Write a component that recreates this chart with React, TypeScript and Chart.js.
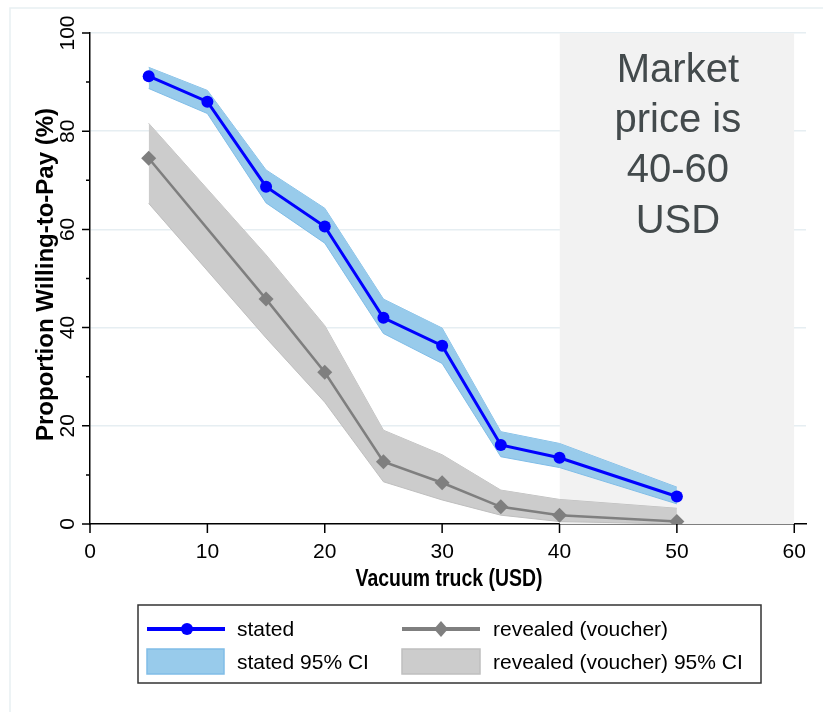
import React, { useEffect, useRef } from 'react';
import { Chart, registerables } from 'chart.js';
Chart.register(...registerables);

// ---- Data ----
const statedPrices = [5, 10, 15, 20, 25, 30, 35, 40, 50];
const statedValues = [91.2, 86.0, 68.7, 60.6, 42.0, 36.3, 16.1, 13.5, 5.6];
const statedUpper = [93.0, 88.3, 72.1, 64.3, 45.8, 39.9, 18.8, 16.4, 7.5];
const statedLower = [88.7, 83.6, 65.4, 57.2, 38.8, 32.7, 13.7, 11.5, 4.1];

const revealedPrices = [5, 15, 20, 25, 30, 35, 40, 50];
const revealedValues = [74.5, 45.8, 30.9, 12.7, 8.4, 3.5, 1.8, 0.5];
const revealedUpper = [81.6, 54.8, 40.4, 19.1, 14.1, 6.9, 5.0, 3.2];
const revealedLower = [65.3, 37.9, 24.8, 8.6, 4.9, 1.8, 0.5, 0.0];

const xTicks = [0, 10, 20, 30, 40, 50, 60];
const yTicks = [0, 20, 40, 60, 80, 100];
const yMinorTicks = [10, 30, 50, 70, 90];
const marketRange = [40, 60];
const marketTop = 100;
const marketLabel = ['Market', 'price is', '40-60', 'USD'];

const xTitle = 'Vacuum truck (USD)';
const yTitle = 'Proportion Willing-to-Pay (%)';
const legendLabels = ['stated', 'revealed (voucher)', 'stated 95% CI', 'revealed (voucher) 95% CI'];

const FONT = '"Liberation Sans", Arial, Helvetica, sans-serif';
const BLUE = '#0000ff';
const GRAY = '#7f7f7f';
const BLUE_CI = '#98cbeb';
const BLUE_CI_EDGE = '#80bde7';
const GRAY_CI = '#cccccc';
const GRAY_CI_EDGE = '#bfbfbf';

const pts = (xs: number[], ys: number[]) => xs.map((x, i) => ({ x, y: ys[i] }));

const drawPlugin = {
  id: 'stataDecor',
  beforeDraw(chart: any) {
    const ctx = chart.ctx;
    ctx.save();
    ctx.fillStyle = '#ffffff';
    ctx.fillRect(0, 0, chart.width, chart.height);
    ctx.strokeStyle = '#e8f0f2';
    ctx.lineWidth = 1.5;
    ctx.beginPath();
    ctx.moveTo(10, chart.height);
    ctx.lineTo(10, 8);
    ctx.lineTo(chart.width, 8);
    ctx.stroke();
    ctx.restore();
  },
  afterDatasetsDraw(chart: any) {
    const ctx = chart.ctx;
    const xs = chart.scales.x;
    const cx = (xs.getPixelForValue(marketRange[0]) + xs.getPixelForValue(marketRange[1])) / 2;
    ctx.save();
    ctx.fillStyle = '#434a4c';
    ctx.font = `40px ${FONT}`;
    ctx.textAlign = 'center';
    ctx.textBaseline = 'alphabetic';
    const baselines = [82, 132, 182, 233];
    marketLabel.forEach((t, i) => ctx.fillText(t, cx + 1, baselines[i]));
    ctx.restore();
  },
  afterDraw(chart: any) {
    const ctx = chart.ctx;
    const xs = chart.scales.x;
    const ys = chart.scales.y;
    const area = chart.chartArea;
    ctx.save();
    ctx.strokeStyle = '#000';
    ctx.lineWidth = 1.5;
    // y ticks
    ctx.beginPath();
    yTicks.forEach((v) => {
      const y = ys.getPixelForValue(v);
      ctx.moveTo(area.left - 8, y);
      ctx.lineTo(area.left, y);
    });
    yMinorTicks.forEach((v) => {
      const y = ys.getPixelForValue(v);
      ctx.moveTo(area.left - 4, y);
      ctx.lineTo(area.left, y);
    });
    // x ticks
    xTicks.forEach((v) => {
      const x = xs.getPixelForValue(v);
      ctx.moveTo(x, area.bottom);
      ctx.lineTo(x, area.bottom + 9);
    });
    ctx.stroke();

    ctx.fillStyle = '#000';
    ctx.font = `21px ${FONT}`;
    ctx.textAlign = 'center';
    ctx.textBaseline = 'alphabetic';
    xTicks.forEach((v) => {
      ctx.fillText(String(v), xs.getPixelForValue(v), 558);
    });
    yTicks.forEach((v) => {
      ctx.save();
      ctx.translate(74, ys.getPixelForValue(v));
      ctx.rotate(-Math.PI / 2);
      ctx.fillText(String(v), 0, 0);
      ctx.restore();
    });

    // axis titles
    ctx.font = `bold 24px ${FONT}`;
    ctx.save();
    ctx.translate(53, (area.top + area.bottom) / 2 - 4);
    ctx.rotate(-Math.PI / 2);
    ctx.fillText(yTitle, 0, 0);
    ctx.restore();

    ctx.save();
    ctx.font = `bold 23px ${FONT}`;
    ctx.translate((area.left + area.right) / 2 + 1, 586);
    ctx.scale(0.845, 1);
    ctx.fillText(xTitle, 0, 0);
    ctx.restore();

    // legend
    ctx.strokeStyle = '#333';
    ctx.lineWidth = 1.5;
    ctx.strokeRect(138, 605, 623, 78);

    const r1 = 629;
    const r2 = 662;
    // stated line
    ctx.strokeStyle = BLUE;
    ctx.lineWidth = 4;
    ctx.beginPath();
    ctx.moveTo(147, r1);
    ctx.lineTo(225, r1);
    ctx.stroke();
    ctx.fillStyle = BLUE;
    ctx.beginPath();
    ctx.arc(187, r1, 6, 0, Math.PI * 2);
    ctx.fill();
    // revealed line
    ctx.strokeStyle = GRAY;
    ctx.beginPath();
    ctx.moveTo(402, r1);
    ctx.lineTo(480, r1);
    ctx.stroke();
    ctx.fillStyle = GRAY;
    ctx.beginPath();
    ctx.moveTo(441 - 7, r1);
    ctx.lineTo(441, r1 - 8);
    ctx.lineTo(441 + 7, r1);
    ctx.lineTo(441, r1 + 8);
    ctx.closePath();
    ctx.fill();
    // swatches
    ctx.lineWidth = 1.5;
    ctx.fillStyle = BLUE_CI;
    ctx.strokeStyle = BLUE_CI_EDGE;
    ctx.fillRect(147, 649, 77, 25);
    ctx.strokeRect(147, 649, 77, 25);
    ctx.fillStyle = GRAY_CI;
    ctx.strokeStyle = GRAY_CI_EDGE;
    ctx.fillRect(402, 649, 78, 25);
    ctx.strokeRect(402, 649, 78, 25);

    ctx.fillStyle = '#000';
    ctx.font = `21px ${FONT}`;
    ctx.textAlign = 'left';
    ctx.textBaseline = 'middle';
    ctx.fillText(legendLabels[0], 237, r1 + 1);
    ctx.fillText(legendLabels[1], 493, r1 + 1);
    ctx.fillText(legendLabels[2], 237, r2 + 1);
    ctx.fillText(legendLabels[3], 493, r2 + 1);
    ctx.restore();
  },
};

export default function App() {
  const ref = useRef<HTMLCanvasElement>(null);
  useEffect(() => {
    const canvas = ref.current;
    if (!canvas) return;
    const chart = new Chart(canvas, {
      type: 'line',
      data: {
        datasets: [
          {
            label: 'market',
            data: marketRange.map((x) => ({ x, y: marketTop })),
            fill: 'origin',
            backgroundColor: '#f2f2f2',
            borderColor: 'rgba(0,0,0,0)',
            borderWidth: 0,
            pointRadius: 0,
            order: 10,
          },
          {
            label: 'revealed upper',
            data: pts(revealedPrices, revealedUpper),
            fill: false,
            borderColor: GRAY_CI_EDGE,
            borderWidth: 1,
            pointRadius: 0,
            order: 9,
          },
          {
            label: 'revealed lower',
            data: pts(revealedPrices, revealedLower),
            fill: '-1',
            backgroundColor: GRAY_CI,
            borderColor: GRAY_CI_EDGE,
            borderWidth: 1,
            pointRadius: 0,
            order: 8,
          },
          {
            label: 'stated upper',
            data: pts(statedPrices, statedUpper),
            fill: false,
            borderColor: BLUE_CI_EDGE,
            borderWidth: 1,
            pointRadius: 0,
            order: 7,
          },
          {
            label: 'stated lower',
            data: pts(statedPrices, statedLower),
            fill: '-1',
            backgroundColor: BLUE_CI,
            borderColor: BLUE_CI_EDGE,
            borderWidth: 1,
            pointRadius: 0,
            order: 6,
          },
          {
            label: 'revealed (voucher)',
            data: pts(revealedPrices, revealedValues),
            fill: false,
            borderColor: GRAY,
            borderWidth: 2.5,
            pointStyle: 'rectRot',
            pointRadius: 7.5,
            pointBackgroundColor: GRAY,
            pointBorderColor: GRAY,
            pointBorderWidth: 0,
            order: 2,
          },
          {
            label: 'stated',
            data: pts(statedPrices, statedValues),
            fill: false,
            borderColor: BLUE,
            borderWidth: 3,
            pointStyle: 'circle',
            pointRadius: 6,
            pointBackgroundColor: BLUE,
            pointBorderColor: BLUE,
            pointBorderWidth: 0,
            order: 1,
          },
        ],
      },
      options: {
        responsive: false,
        animation: false,
        devicePixelRatio: 1,
        layout: { padding: { left: 90, right: 17, top: 33, bottom: 188 } },
        elements: { line: { tension: 0 } },
        plugins: { legend: { display: false }, tooltip: { enabled: false } },
        events: [],
        scales: {
          x: {
            type: 'linear',
            min: 0,
            max: 61,
            ticks: { display: false },
            grid: { display: true, color: 'rgba(0,0,0,0)', drawTicks: false },
            border: { display: true, color: '#000', width: 1.5 },
            afterFit: (s: any) => {
              s.height = 0;
            },
          },
          y: {
            type: 'linear',
            min: 0,
            max: 100,
            afterBuildTicks: (s: any) => {
              s.ticks = yTicks.map((v) => ({ value: v }));
            },
            ticks: { display: false },
            grid: {
              color: (c: any) => (c.tick && c.tick.value === 0 ? 'rgba(0,0,0,0)' : '#e6eef2'),
              lineWidth: 1.5,
              drawTicks: false,
            },
            border: { display: true, color: '#000', width: 1.5 },
            afterFit: (s: any) => {
              s.width = 0;
            },
          },
        },
      } as any,
      plugins: [drawPlugin],
    });
    return () => chart.destroy();
  }, []);
  return (
    <div style={{ position: 'absolute', left: 0, top: 0, width: 823, height: 712 }}>
      <canvas ref={ref} width={823} height={712} style={{ display: 'block', width: 823, height: 712 }} />
    </div>
  );
}
